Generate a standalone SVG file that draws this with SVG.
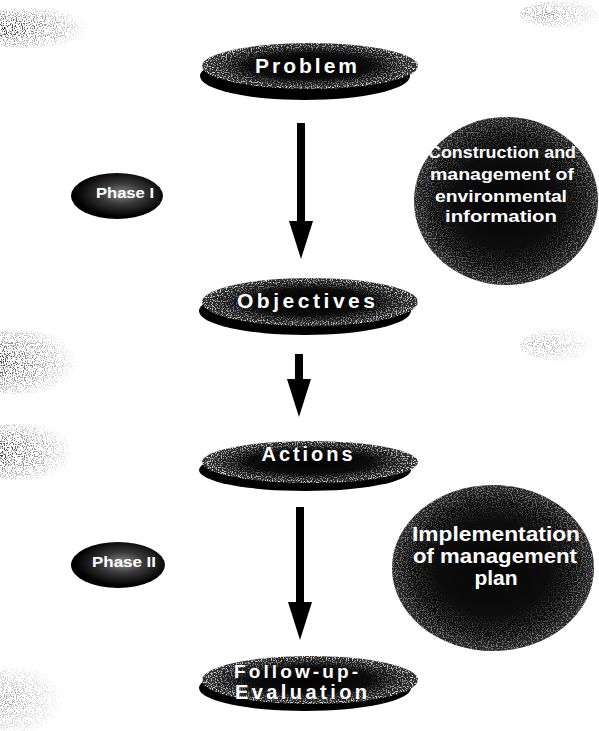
<svg xmlns="http://www.w3.org/2000/svg" width="599" height="731" viewBox="0 0 599 731">
<style>
  .lbl { font-family: "Liberation Sans", Arial, sans-serif; font-weight: bold; fill: #fff; text-anchor: middle; }
  .rim { fill: #000; }
  .face { fill: url(#faceGrad); }
  .spk { fill: url(#edgeWhite); filter: url(#noise); }
  .big { fill: url(#bigGrad); }
  .phase { fill: url(#phaseGrad); }
  .conn { stroke: #000; stroke-width: 8; fill: none; }
  .bg { filter: url(#sparse); fill: url(#bgGrad); }
</style>
<defs>
  <radialGradient id="faceGrad" cx="0.5" cy="0.5" r="0.5">
    <stop offset="0" stop-color="#000"/>
    <stop offset="0.6" stop-color="#0d0d0d"/>
    <stop offset="1" stop-color="#333"/>
  </radialGradient>
  <radialGradient id="edgeWhite" cx="0.5" cy="0.5" r="0.5">
    <stop offset="0.55" stop-color="#fff" stop-opacity="0"/>
    <stop offset="1" stop-color="#fff" stop-opacity="0.85"/>
  </radialGradient>
  <radialGradient id="bigGrad" cx="0.5" cy="0.5" r="0.5">
    <stop offset="0" stop-color="#050505"/>
    <stop offset="0.8" stop-color="#101010"/>
    <stop offset="1" stop-color="#2a2a2a"/>
  </radialGradient>
  <radialGradient id="phaseGrad" cx="0.55" cy="0.45" r="0.5">
    <stop offset="0" stop-color="#8a8a8a"/>
    <stop offset="0.45" stop-color="#3a3a3a"/>
    <stop offset="1" stop-color="#000"/>
  </radialGradient>
  <radialGradient id="bgGrad" cx="0.3" cy="0.5" r="0.65">
    <stop offset="0" stop-color="#111" stop-opacity="0.9"/>
    <stop offset="1" stop-color="#111" stop-opacity="0"/>
  </radialGradient>
  <filter id="noise" x="0" y="0" width="1" height="1">
    <feTurbulence type="fractalNoise" baseFrequency="0.8" numOctaves="1" seed="4" result="n"/>
    <feColorMatrix in="n" type="matrix" values="0 0 0 0 0  0 0 0 0 0  0 0 0 0 0  0 0 0 9 -4.6" result="mask"/>
    <feComposite in="SourceGraphic" in2="mask" operator="in"/>
  </filter>
  <filter id="sparse" x="0" y="0" width="1" height="1">
    <feTurbulence type="fractalNoise" baseFrequency="0.9" numOctaves="1" seed="9" result="n"/>
    <feColorMatrix in="n" type="matrix" values="0 0 0 0 0  0 0 0 0 0  0 0 0 0 0  0 0 0 10 -5.2" result="mask"/>
    <feComposite in="SourceGraphic" in2="mask" operator="in"/>
  </filter>
  <marker id="head" markerUnits="userSpaceOnUse" markerWidth="40" markerHeight="26" viewBox="0 -13 40 26" refX="1" refY="0" orient="auto">
    <path d="M0,-12 L38,0 L0,12 Z" fill="#000"/>
  </marker>
</defs>

<g id="background">
  <ellipse class="bg" cx="30" cy="28" rx="65" ry="20"/>
  <ellipse class="bg" cx="565" cy="14" rx="45" ry="14" opacity="0.5"/>
  <ellipse class="bg" cx="20" cy="362" rx="65" ry="32"/>
  <ellipse class="bg" cx="560" cy="345" rx="40" ry="16" opacity="0.4"/>
  <ellipse class="bg" cx="20" cy="452" rx="60" ry="28"/>
  <ellipse class="bg" cx="20" cy="700" rx="50" ry="32" opacity="0.5"/>
</g>

<g id="connectors">
  <path class="conn" d="M301,123 V222" marker-end="url(#head)"/>
  <path class="conn" d="M299,354 V380" marker-end="url(#head)"/>
  <path class="conn" d="M300,507 V603" marker-end="url(#head)"/>
</g>

<g id="problem">
  <ellipse class="rim" cx="305" cy="76" rx="105" ry="24"/>
  <ellipse class="face" cx="310" cy="66" rx="108" ry="23"/>
  <ellipse class="spk" cx="310" cy="66" rx="108" ry="23"/>
  <text class="lbl" x="306" y="73" font-size="21" textLength="102">Problem</text>
</g>

<g id="objectives">
  <ellipse class="rim" cx="305" cy="311" rx="106" ry="24"/>
  <ellipse class="face" cx="310" cy="302" rx="108" ry="24"/>
  <ellipse class="spk" cx="310" cy="302" rx="108" ry="24"/>
  <text class="lbl" x="306" y="308" font-size="21" textLength="138">Objectives</text>
</g>

<g id="actions">
  <ellipse class="rim" cx="305" cy="470" rx="106" ry="21"/>
  <ellipse class="face" cx="310" cy="462" rx="108" ry="21"/>
  <ellipse class="spk" cx="310" cy="462" rx="108" ry="21"/>
  <text class="lbl" x="307" y="461" font-size="20" textLength="91">Actions</text>
</g>

<g id="followup">
  <ellipse class="rim" cx="305" cy="688" rx="106" ry="23"/>
  <ellipse class="face" cx="310" cy="680" rx="108" ry="24"/>
  <ellipse class="spk" cx="310" cy="680" rx="108" ry="24"/>
  <text class="lbl" x="296" y="678" font-size="19" textLength="124">Follow-up-</text>
  <text class="lbl" x="301" y="699" font-size="20" textLength="132">Evaluation</text>
</g>

<g id="phase1">
  <ellipse class="phase" cx="117" cy="196" rx="46" ry="23"/>
  <text class="lbl" x="125" y="198" font-size="14" textLength="58" lengthAdjust="spacingAndGlyphs">Phase I</text>
</g>

<g id="phase2">
  <ellipse class="phase" cx="118" cy="565" rx="47" ry="23"/>
  <text class="lbl" x="124" y="567" font-size="14" textLength="64" lengthAdjust="spacingAndGlyphs">Phase II</text>
</g>

<g id="construction">
  <ellipse class="big" cx="506" cy="201" rx="92" ry="84"/>
  <ellipse class="spk" cx="506" cy="201" rx="92" ry="84" opacity="0.5"/>
  <text class="lbl" x="502" y="158" font-size="17" textLength="148" lengthAdjust="spacingAndGlyphs">Construction and</text>
  <text class="lbl" x="502" y="180" font-size="17" textLength="144" lengthAdjust="spacingAndGlyphs">management of</text>
  <text class="lbl" x="501" y="202" font-size="17" textLength="132" lengthAdjust="spacingAndGlyphs">environmental</text>
  <text class="lbl" x="501" y="222" font-size="17" textLength="112" lengthAdjust="spacingAndGlyphs">information</text>
</g>

<g id="implementation">
  <ellipse class="big" cx="493" cy="568" rx="101" ry="83"/>
  <ellipse class="spk" cx="493" cy="568" rx="101" ry="83" opacity="0.5"/>
  <text class="lbl" x="496" y="541" font-size="21" textLength="168" lengthAdjust="spacingAndGlyphs">Implementation</text>
  <text class="lbl" x="495" y="563" font-size="21" textLength="164" lengthAdjust="spacingAndGlyphs">of management</text>
  <text class="lbl" x="496" y="585" font-size="21">plan</text>
</g>
</svg>
